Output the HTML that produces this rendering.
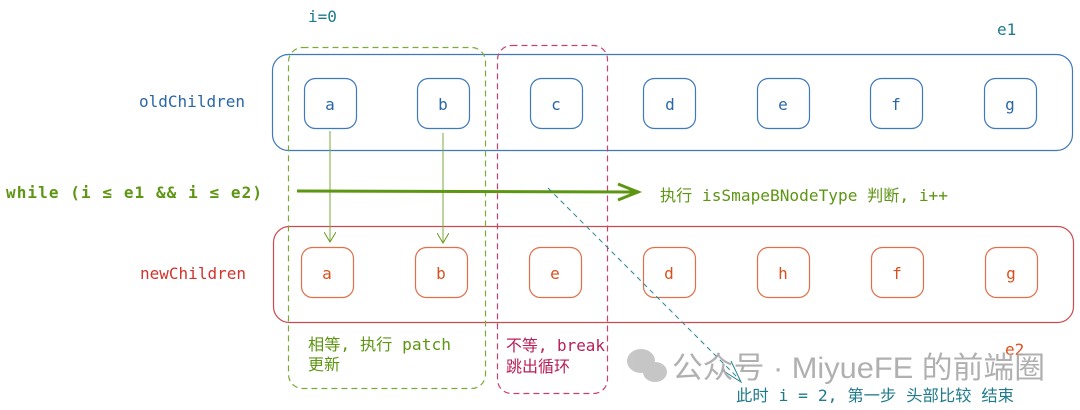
<!DOCTYPE html>
<html><head><meta charset="utf-8"><style>
body{margin:0;background:#fff;}
svg{display:block;}
text{font-family:"DejaVu Sans Mono","Liberation Mono","Noto Sans CJK SC",monospace;font-size:16px;}
.cjk{font-family:"DejaVu Sans Mono","Noto Sans CJK SC",monospace;}
</style></head><body>
<svg width="1080" height="410" viewBox="0 0 1080 410" xmlns="http://www.w3.org/2000/svg">
<defs>
<marker id="ag" markerWidth="12" markerHeight="12" refX="10" refY="6" orient="auto" markerUnits="userSpaceOnUse"><path d="M0,0 L10,6 L0,12" fill="none" stroke="#6a9c22" stroke-width="1"/></marker>
</defs>
<rect x="272.5" y="54.5" width="800" height="96" rx="16" fill="none" stroke="#3f79bd" stroke-width="1.2"/>
<g fill="none" stroke="#3f79bd" stroke-width="1.2">
<rect x="304.5" y="78.5" width="52" height="50" rx="11"/>
<rect x="417.5" y="78.5" width="52" height="50" rx="11"/>
<rect x="530.5" y="78.5" width="52" height="50" rx="11"/>
<rect x="643.5" y="78.5" width="52" height="50" rx="11"/>
<rect x="757.5" y="78.5" width="52" height="50" rx="11"/>
<rect x="870.5" y="78.5" width="52" height="50" rx="11"/>
<rect x="984.5" y="78.5" width="52" height="50" rx="11"/>
</g>
<g fill="#2a66a8" text-anchor="middle">
<text x="330" y="110">a</text><text x="443" y="110">b</text><text x="556" y="110">c</text><text x="670" y="110">d</text><text x="783" y="110">e</text><text x="896" y="110">f</text><text x="1010" y="110">g</text>
<text x="192" y="107">oldChildren</text>
</g>
<rect x="273.5" y="226.5" width="800" height="96" rx="16" fill="none" stroke="#cc4b50" stroke-width="1.2"/>
<g fill="none" stroke="#e0704a" stroke-width="1.2">
<rect x="301.5" y="247.5" width="52" height="50" rx="11"/>
<rect x="415.5" y="247.5" width="52" height="50" rx="11"/>
<rect x="529.5" y="247.5" width="52" height="50" rx="11"/>
<rect x="643.5" y="247.5" width="52" height="50" rx="11"/>
<rect x="757.5" y="247.5" width="52" height="50" rx="11"/>
<rect x="871.5" y="247.5" width="52" height="50" rx="11"/>
<rect x="985.5" y="247.5" width="52" height="50" rx="11"/>
</g>
<g fill="#d9501e" text-anchor="middle">
<text x="327" y="279">a</text><text x="441" y="279">b</text><text x="555" y="279">e</text><text x="669" y="279">d</text><text x="783" y="279">h</text><text x="897" y="279">f</text><text x="1011" y="279">g</text>
</g>
<text x="193" y="279" fill="#d0342c" text-anchor="middle">newChildren</text>
<rect x="288.5" y="47.5" width="197" height="341" rx="14" fill="none" stroke="#7aab3a" stroke-width="1.2" stroke-dasharray="6,4"/>
<rect x="497.5" y="45.5" width="110" height="348" rx="14" fill="none" stroke="#c9426c" stroke-width="1.2" stroke-dasharray="6,4"/>
<line x1="330" y1="131" x2="330" y2="242" stroke="#7aab3a" stroke-width="1" marker-end="url(#ag)"/>
<line x1="443" y1="133" x2="443" y2="243" stroke="#7aab3a" stroke-width="1" marker-end="url(#ag)"/>
<line x1="297" y1="191" x2="636" y2="192" stroke="#5d9612" stroke-width="3"/>
<path d="M618,184 L638,192 L618,200" fill="none" stroke="#5d9612" stroke-width="3"/>
<text x="660" y="201" fill="#5d9612" class="cjk" textLength="288" lengthAdjust="spacingAndGlyphs">执行 isSmapeBNodeType 判断, i++</text>
<text x="6" y="198" fill="#5d9612" font-weight="bold" textLength="256" lengthAdjust="spacing">while (i ≤ e1 &amp;&amp; i ≤ e2)</text>
<line x1="548" y1="188" x2="740" y2="380" stroke="#2a8596" stroke-width="1" stroke-dasharray="5,4"/>
<path d="M722,370 L741,382 L731,361" fill="none" stroke="#2a8596" stroke-width="1"/>
<text x="308" y="22" fill="#1f7a8c">i=0</text>
<text x="997" y="35" fill="#1f7a8c">e1</text>
<text x="1005" y="355" fill="#e0501e">e2</text>
<text x="308" y="350" fill="#5d9612" class="cjk" textLength="143" lengthAdjust="spacingAndGlyphs">相等, 执行 patch</text>
<text x="308" y="370" fill="#5d9612" class="cjk">更新</text>
<text x="506" y="351" fill="#b81e58" class="cjk" textLength="99" lengthAdjust="spacingAndGlyphs">不等, break</text>
<text x="506" y="372" fill="#b81e58" class="cjk">跳出循环</text>
<g fill="#bdbdbd" opacity="0.85">
<ellipse cx="641" cy="361" rx="14" ry="12"/>
<ellipse cx="655" cy="372" rx="12" ry="10"/>
</g>
<text x="672" y="378" fill="#a8a8a8" opacity="0.9" textLength="373" lengthAdjust="spacingAndGlyphs" style="font-family:'Liberation Sans','Noto Sans CJK SC',sans-serif;font-size:30px;">公众号 · MiyueFE 的前端圈</text>
<text x="736" y="401" fill="#1f7a8c" class="cjk" textLength="278" lengthAdjust="spacingAndGlyphs">此时 i = 2, 第一步 头部比较 结束</text>
</svg>
</body></html>
